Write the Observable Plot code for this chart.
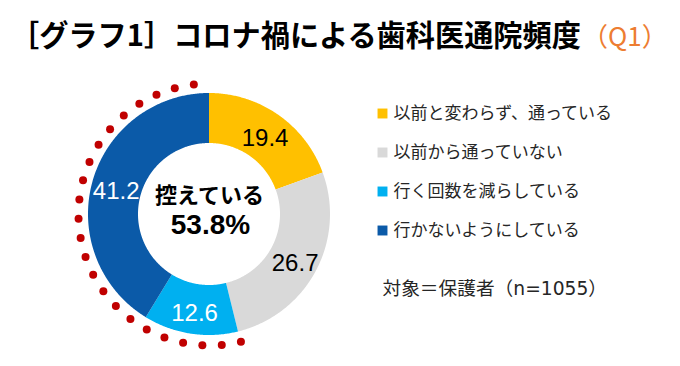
<!DOCTYPE html>
<html>
<head>
<meta charset="utf-8">
<script src="https://cdn.jsdelivr.net/npm/d3@7"></script>
<script src="https://cdn.jsdelivr.net/npm/@observablehq/plot@0.6"></script>
<style>
  body { margin: 0; background: #fff; font-family: "Noto Sans CJK JP", sans-serif; }
  #title { position: relative; height: 60px; white-space: nowrap; }
  #title .main { position: absolute; left: 10px; top: 19px; font-size: 29.2px; line-height: 29.2px; font-weight: bold; color: #000; }
  #title .q { position: absolute; left: 582px; top: 22px; font-size: 26px; line-height: 26px; color: #ED7D31; }
</style>
</head>
<body>
<div id="title"><span class="main">［グラフ1］コロナ禍による歯科医通院頻度</span><span class="q">（Q1）</span></div>
<div id="chart"></div>
<script>
// ---- data ----
const categories = ["以前と変わらず、通っている", "以前から通っていない", "行く回数を減らしている", "行かないようにしている"];
const values = [19.4, 26.7, 12.6, 41.2];
const colors = ["#FFC000", "#D9D9D9", "#00B0F0", "#0B5AA8"];
const labelColors = ["#000000", "#000000", "#FFFFFF", "#FFFFFF"];
const restrainedCategories = ["行く回数を減らしている", "行かないようにしている"];
const centerTitle = "控えている";
const note = "対象＝保護者（n=1055）";

// ---- layout ----
const W = 680, H = 306;
const cx = 209, cy = 154, R = 121, r = 71, rLabel = 97, rDots = 131;
const dotCount = 23, dotStepDeg = 8.5;
const legendX = 382, legendTop = 53, legendStep = 39;

const arcs = d3.pie().sort(null)(values);
const pt = (a, rad) => [cx + rad * Math.sin(a), cy - rad * Math.cos(a)];

// ring polygons
const ring = [];
arcs.forEach((a, i) => {
  const n = Math.max(2, Math.ceil((a.endAngle - a.startAngle) / (Math.PI / 360)));
  for (let k = 0; k <= n; k++) {
    const t = a.startAngle + (a.endAngle - a.startAngle) * k / n;
    const [x1, y1] = pt(t, r);
    const [x2, y2] = pt(t, R);
    ring.push({cat: categories[i], color: colors[i], x1, y1, x2, y2});
  }
});

// value labels
const labels = arcs.map((a, i) => {
  const [x, y] = pt((a.startAngle + a.endAngle) / 2, rLabel);
  return {x, y, text: values[i].toFixed(1), color: labelColors[i]};
});

// dotted arc around the "restrained" share
const firstRestrained = categories.indexOf(restrainedCategories[0]);
const startA = arcs[firstRestrained].startAngle;
const dots = d3.range(dotCount).map(k => {
  const [x, y] = pt(startA + k * dotStepDeg * Math.PI / 180, rDots);
  return {x, y};
});

const restrainedTotal = d3.sum(restrainedCategories, c => values[categories.indexOf(c)]);

const chart = Plot.plot({
  width: W, height: H,
  margin: 0,
  x: {type: "identity", axis: null},
  y: {type: "identity", axis: null},
  marks: [
    Plot.area(ring, {x1: "x1", y1: "y1", x2: "x2", y2: "y2", z: "cat", fill: "color"}),
    Plot.text(labels, {x: "x", y: "y", dy: 3, text: "text", fill: "color", fontSize: 24, fontFamily: "Liberation Sans"}),
    Plot.dot(dots, {x: "x", y: "y", r: 4, fill: "#C00000"}),
    Plot.text([centerTitle], {x: cx, y: cy - 19, text: d => d, fontSize: 22, fontWeight: "bold", fill: "#000"}),
    Plot.text([restrainedTotal.toFixed(1) + "%"], {x: cx + 1, y: cy + 11, text: d => d, fontSize: 28, fontWeight: "bold", fontFamily: "Liberation Sans", fill: "#000"}),
    Plot.dot(categories, {x: legendX, y: (d, i) => legendTop + i * legendStep, symbol: "square", r: 5.6, fill: (d, i) => colors[i]}),
    Plot.text(categories, {x: legendX + 11, y: (d, i) => legendTop + i * legendStep, text: d => d, textAnchor: "start", fontSize: 17, fill: "#262626"}),
    Plot.text([note], {x: legendX, y: legendTop + 4.5 * legendStep, text: d => d, textAnchor: "start", fontSize: 18.7, fontFamily: '"DejaVu Sans", "Noto Sans CJK JP"', fill: "#262626"})
  ]
});
chart.style.fontFamily = '"Noto Sans CJK JP", sans-serif';
document.getElementById("chart").append(chart);
</script>
</body>
</html>
